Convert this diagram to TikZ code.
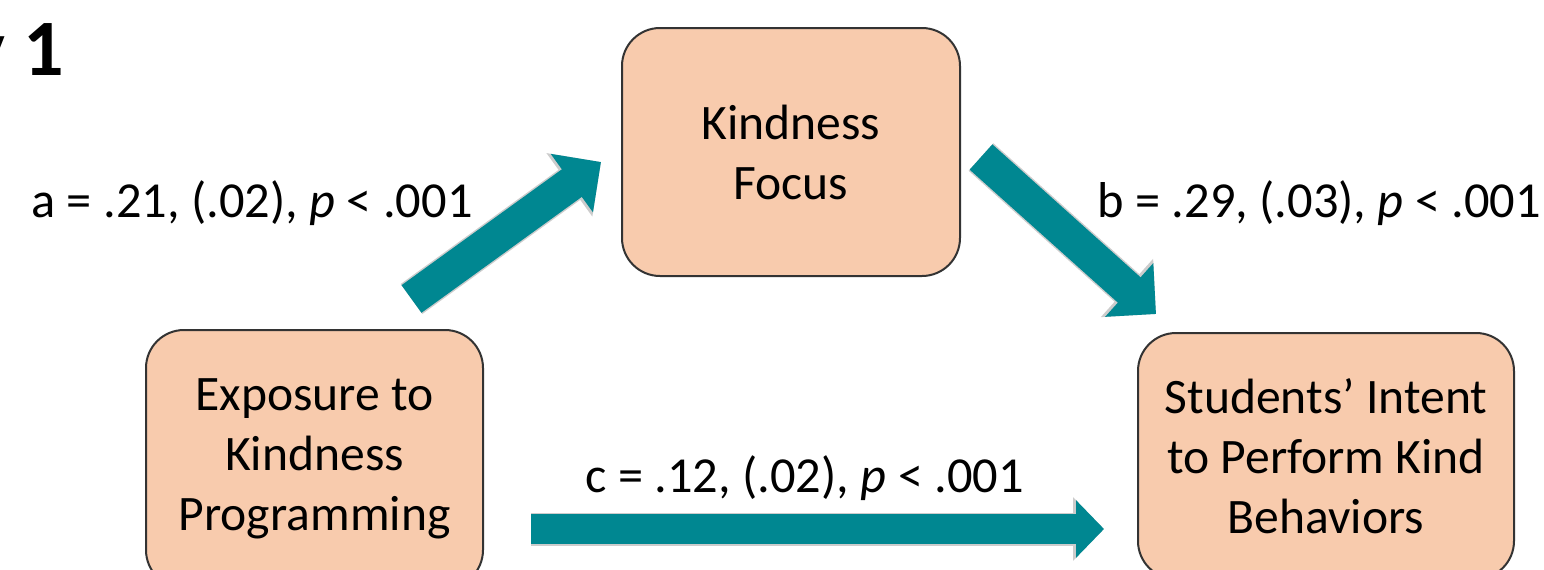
\documentclass[tikz,border=0pt]{standalone}
\usepackage{fontspec}
\setmainfont{Carlito}
\usepackage{tikz}
\usetikzlibrary{arrows.meta}
\definecolor{boxfill}{HTML}{F8CBAD}
\definecolor{arrowteal}{HTML}{008791}

\begin{document}
\begin{tikzpicture}[x=0.5pt,y=-0.5pt,
		box/.style={draw=black!80,line width=1pt,fill=boxfill,rounded corners=19pt,align=center,font=\fontsize{24.8}{30}\selectfont},
		lab/.style={inner sep=0pt,font=\fontsize{25.2}{30}\selectfont},
		diagarrow/.style={draw=arrowteal,line width=17pt,-{Triangle[length=18pt,width=35pt]},
			preaction={draw=gray!40,line width=18.5pt,-{Triangle[length=19.5pt,width=38pt]}}},
		flatarrow/.style={draw=arrowteal,line width=15pt,-{Triangle[length=14pt,width=28pt]},
			preaction={draw=gray!40,line width=16.5pt,-{Triangle[length=15.5pt,width=31pt]}}}]
			\useasboundingbox (0,0) rectangle (1544,569);
			\node[anchor=base east,inner sep=0pt,font=\fontsize{40}{46}\selectfont\bfseries] (title) at (64,75) {y 1};
			\node[box,minimum width=169pt,minimum height=124pt] (focus) at (791,152) {Kindness\\Focus};
			\node[box,minimum width=168.5pt,minimum height=129pt] (expo) at (314.5,459) {Exposure to\\Kindness\\Programming};
			\node[box,minimum width=188pt,minimum height=123pt] (intent) at (1326,456) {Students’ Intent\\to Perform Kind\\Behaviors};
			\draw[diagarrow] ([shift={(97,-30)}]expo.north) -- ([shift={(-20,10)}]focus.west);
			\draw[diagarrow] ([shift={(20,5)}]focus.east) -- ([shift={(19,-18)}]intent.north west);
			\draw[flatarrow] ([shift={(47,70)}]expo.east) -- ([shift={(-33,73)}]intent.west);
			\node[lab,anchor=base east] (la) at (473,217) {a = .21, (.02), \textit{p} < .001};
			\node[lab,anchor=base west] (lb) at (1097,217) {b = .29, (.03), \textit{p} < .001};
			\node[lab,anchor=base west] (lc) at (585,492) {c = .12, (.02), \textit{p} < .001};
		\end{tikzpicture}
\end{document}
